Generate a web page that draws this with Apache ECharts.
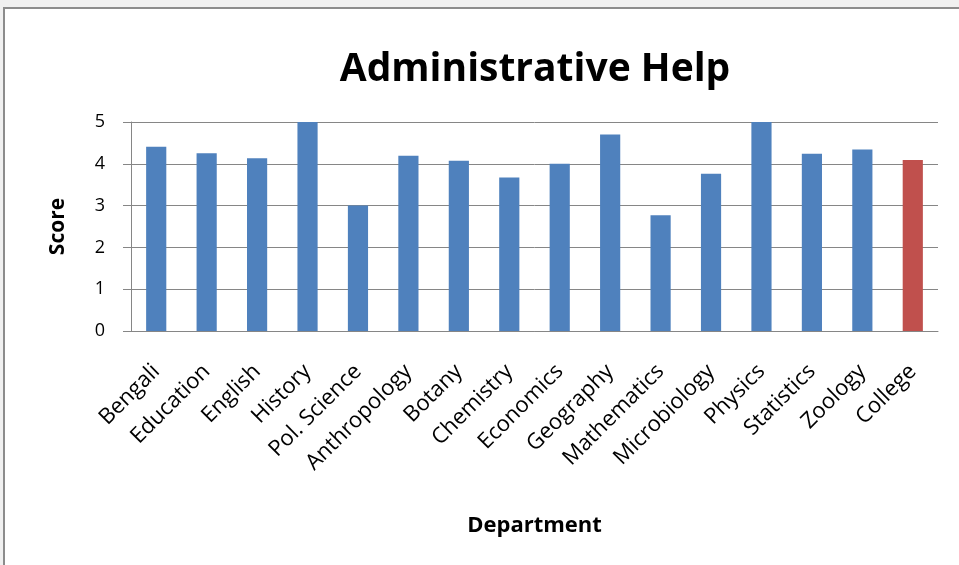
<!DOCTYPE html>
<html><head><meta charset="utf-8">
<script src="https://cdn.jsdelivr.net/npm/echarts@6/dist/echarts.min.js"></script>
<style>html,body{margin:0;padding:0;background:#f0f0f0;}#c{width:959px;height:565px;}</style>
</head><body><div id="c"></div>
<script>
const categories = ["Bengali","Education","English","History","Pol. Science","Anthropology","Botany","Chemistry","Economics","Geography","Mathematics","Microbiology","Physics","Statistics","Zoology","College"];
const scores = [4.41,4.25,4.13,5.0,3.0,4.19,4.07,3.67,4.0,4.70,2.77,3.76,5.0,4.24,4.34,4.09];
const highlightCategory = "College";
const yTicks = [0,1,2,3,4,5];

const chart = echarts.init(document.getElementById('c'));
const FONT = '"Open Sans", Lato, sans-serif';
chart.setOption({
  animation: false,
  backgroundColor: '#f0f0f0',
  graphic: [{type:'rect', shape:{x:4,y:8,width:970,height:570}, style:{fill:'#ffffff', stroke:'#8c8c8c', lineWidth:2}, z:-10}],
  title: {text:'Administrative Help', left:530, top:45, textAlign:'center',
    textStyle:{fontFamily:FONT, fontWeight:'bold', fontSize:39, color:'#000'}},
  grid: {left:131, right:21, top:122, bottom:234},
  xAxis: {type:'category', data:categories, name:'Department', nameLocation:'middle', nameGap:184,
    nameTextStyle:{fontFamily:FONT, fontWeight:'bold', fontSize:22, color:'#000'},
    axisLine:{lineStyle:{color:'#868686'}}, axisTick:{show:false},
    axisLabel:{rotate:45, interval:0, fontFamily:FONT, fontSize:22, color:'#000', margin:37}},
  yAxis: {type:'value', min:0, max:5, interval:1, name:'Score', nameLocation:'middle', nameGap:62,
    nameTextStyle:{fontFamily:FONT, fontWeight:'bold', fontSize:21, color:'#000'},
    axisLine:{show:true, lineStyle:{color:'#868686'}}, axisTick:{show:true, length:8, lineStyle:{color:'#868686'}},
    axisLabel:{fontFamily:FONT, fontSize:18, color:'#000', margin:26,
      formatter: v => yTicks.includes(v) ? String(v) : ''},
    splitLine:{lineStyle:{color:'#868686'}}},
  series: [{type:'bar', barWidth:'40%',
    data: scores.map((v,i)=>({value:v, itemStyle:{color: categories[i]===highlightCategory ? '#c0504d' : '#4f81bd'}}))}]
});
</script></body></html>
